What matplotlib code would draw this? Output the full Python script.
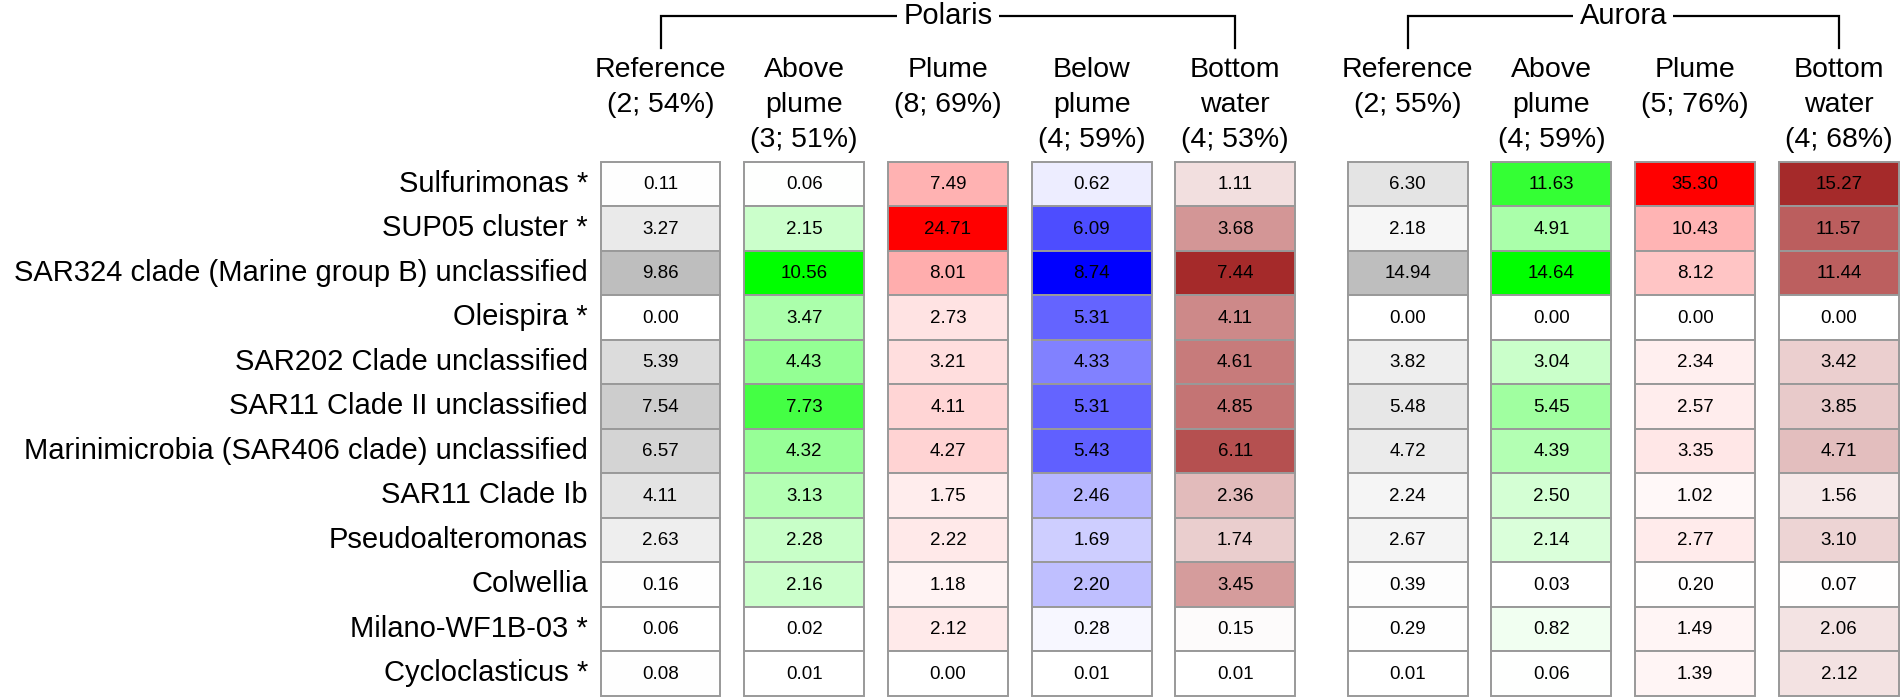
import numpy as np
import matplotlib
matplotlib.use("Agg")
import matplotlib.pyplot as plt
from matplotlib.patches import Rectangle
from matplotlib.colors import LinearSegmentedColormap

plt.rcParams['font.family'] = ['Liberation Sans', 'DejaVu Sans']

# ---------------- data ----------------
taxa = ["Sulfurimonas *", "SUP05 cluster *",
        "SAR324 clade (Marine group B) unclassified", "Oleispira *",
        "SAR202 Clade unclassified", "SAR11 Clade II unclassified",
        "Marinimicrobia (SAR406 clade) unclassified", "SAR11 Clade Ib",
        "Pseudoalteromonas", "Colwellia", "Milano-WF1B-03 *", "Cycloclasticus *"]

sites = ["Polaris", "Aurora"]
polaris_headers = ["Reference\n(2; 54%)", "Above\nplume\n(3; 51%)", "Plume\n(8; 69%)",
                   "Below\nplume\n(4; 59%)", "Bottom\nwater\n(4; 53%)"]
aurora_headers = ["Reference\n(2; 55%)", "Above\nplume\n(4; 59%)", "Plume\n(5; 76%)",
                  "Bottom\nwater\n(4; 68%)"]
polaris_kinds = ["reference", "above", "plume", "below", "bottom"]
aurora_kinds = ["reference", "above", "plume", "bottom"]

polaris_reference = [0.11, 3.27, 9.86, 0.00, 5.39, 7.54, 6.57, 4.11, 2.63, 0.16, 0.06, 0.08]
polaris_above = [0.06, 2.15, 10.56, 3.47, 4.43, 7.73, 4.32, 3.13, 2.28, 2.16, 0.02, 0.01]
polaris_plume = [7.49, 24.71, 8.01, 2.73, 3.21, 4.11, 4.27, 1.75, 2.22, 1.18, 2.12, 0.00]
polaris_below = [0.62, 6.09, 8.74, 5.31, 4.33, 5.31, 5.43, 2.46, 1.69, 2.20, 0.28, 0.01]
polaris_bottom = [1.11, 3.68, 7.44, 4.11, 4.61, 4.85, 6.11, 2.36, 1.74, 3.45, 0.15, 0.01]
aurora_reference = [6.30, 2.18, 14.94, 0.00, 3.82, 5.48, 4.72, 2.24, 2.67, 0.39, 0.29, 0.01]
aurora_above = [11.63, 4.91, 14.64, 0.00, 3.04, 5.45, 4.39, 2.50, 2.14, 0.03, 0.82, 0.06]
aurora_plume = [35.30, 10.43, 8.12, 0.00, 2.34, 2.57, 3.35, 1.02, 2.77, 0.20, 1.49, 1.39]
aurora_bottom = [15.27, 11.57, 11.44, 0.00, 3.42, 3.85, 4.71, 1.56, 3.10, 0.07, 2.06, 2.12]

polaris_values = [polaris_reference, polaris_above, polaris_plume, polaris_below, polaris_bottom]
aurora_values = [aurora_reference, aurora_above, aurora_plume, aurora_bottom]

# ---------------- style ----------------
kind_colors = {"reference": "#bebebe", "above": "#00ff00", "plume": "#ff0000",
               "below": "#0000ff", "bottom": "#a52a2a"}
cmaps = {k: LinearSegmentedColormap.from_list(k, ["#ffffff", c]) for k, c in kind_colors.items()}

W, H = 1902, 700
fig = plt.figure(figsize=(W / 100, H / 100), dpi=100)
ax = fig.add_axes([0, 0, 1, 1])

# layout (pixel geometry -> data units)
col_step_px = 143.7
row_h_px = 44.5
x0_px = 660.5          # centre of first column
y0_px = 183.75         # centre of first row
group_gap = 0.2        # extra gap between sites (column units)
cell_w = 0.835

ax.set_xlim(-x0_px / col_step_px, (W - x0_px) / col_step_px)
ax.set_ylim((H - y0_px) / row_h_px, -y0_px / row_h_px)
ax.axis("off")

def px_y(p):
    return (p - y0_px) / row_h_px

def px_x(p):
    return (p - x0_px) / col_step_px

groups = [(sites[0], polaris_headers, polaris_kinds, polaris_values),
          (sites[1], aurora_headers, aurora_kinds, aurora_values)]

xpos = 0.0
label_x = px_x(588)
for gi, (site, headers, kinds, values) in enumerate(groups):
    xs = []
    for header, kind, vals in zip(headers, kinds, values):
        vals = np.asarray(vals)
        vmax = vals.max()
        cmap = cmaps[kind]
        for r, v in enumerate(vals):
            ax.add_patch(Rectangle((xpos - cell_w / 2, r - 0.5), cell_w, 1.0,
                                   facecolor=cmap(v / vmax), edgecolor="#999999",
                                   linewidth=1.4, zorder=2))
            ax.text(xpos, r + 0.02, f"{v:.2f}", ha="center", va="center",
                    fontsize=13.5, color="black", zorder=3)
        ax.text(xpos, px_y(57), header, ha="center", va="top", fontsize=20.5,
                linespacing=1.44)
        xs.append(xpos)
        xpos += 1.0
    # bracket
    yb_top = px_y(16)
    yb_bot = px_y(48)
    ax.plot([xs[0], xs[0], xs[-1], xs[-1]], [yb_bot, yb_top, yb_top, yb_bot],
            color="black", lw=1.6, solid_joinstyle="miter", zorder=1)
    ax.text((xs[0] + xs[-1]) / 2, yb_top, site, ha="center", va="center",
            fontsize=21, zorder=2,
            bbox=dict(boxstyle="square,pad=0.22", facecolor="white", edgecolor="none"))
    xpos += group_gap

for r, name in enumerate(taxa):
    ax.text(label_x, r, name, ha="right", va="center", fontsize=21)

fig.savefig("out.png", dpi=100, facecolor="white")
